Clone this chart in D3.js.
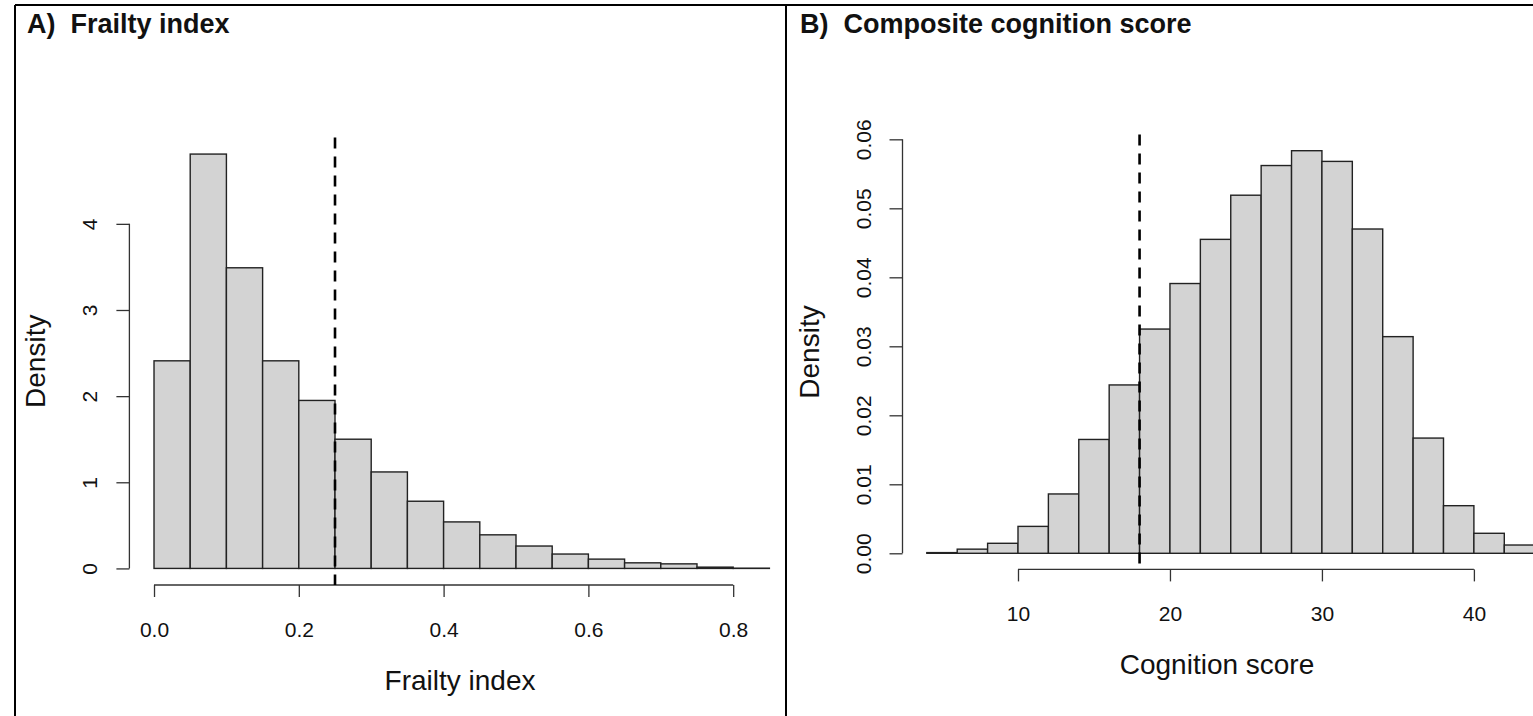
<!DOCTYPE html>
<html>
<head>
<meta charset="utf-8">
<script src="https://cdn.jsdelivr.net/npm/d3@7"></script>
<style>
  body { margin: 0; background: #fff; }
  text { font-family: "Liberation Sans", Arial, sans-serif; fill: #111; }
</style>
</head>
<body>
<div id="chart"></div>
<script>
'use strict';

// svg size
const SVG_WIDTH = 1533;
const SVG_HEIGHT = 716;

// frailty histogram
const frailty_breaks = [0, 0.05, 0.10, 0.15, 0.20, 0.25, 0.30, 0.35, 0.40, 0.45, 0.50, 0.55, 0.60, 0.65, 0.70, 0.75, 0.80, 0.85];
const frailty_density = [2.41, 4.81, 3.49, 2.41, 1.95, 1.50, 1.12, 0.78, 0.54, 0.39, 0.26, 0.167, 0.108, 0.065, 0.053, 0.015, 0.003];
const frailty_x_ticks = [0, 0.2, 0.4, 0.6, 0.8];
const frailty_y_ticks = [0, 1, 2, 3, 4];
const frailty_cutoff = 0.25;

// cognition histogram
const cognition_breaks = [4, 6, 8, 10, 12, 14, 16, 18, 20, 22, 24, 26, 28, 30, 32, 34, 36, 38, 40, 42, 44];
const cognition_density = [0.0001, 0.0006, 0.00145, 0.0039, 0.0086, 0.0165, 0.0244, 0.0325, 0.0391, 0.0455, 0.0519, 0.0562, 0.05835, 0.0568, 0.0470, 0.0314, 0.0167, 0.0069, 0.0029, 0.0012];
const cognition_x_ticks = [10, 20, 30, 40];
const cognition_y_ticks = [0, 0.01, 0.02, 0.03, 0.04, 0.05, 0.06];
const cognition_cutoff = 18;

const panels = [
    {
        title: 'A)  Frailty index', title_x: 27,
        xlab: 'Frailty index', ylab: 'Density',
        breaks: frailty_breaks, density: frailty_density,
        x_ticks: frailty_x_ticks, y_ticks: frailty_y_ticks,
        x_fmt: d3.format('.1f'), y_fmt: d3.format('d'),
        cutoff: frailty_cutoff,
        box: {left: 129.4, right: 794, top: 137.5, bottom: 585},
        xlab_x: 460
    },
    {
        title: 'B)  Composite cognition score', title_x: 800,
        xlab: 'Cognition score', ylab: 'Density',
        breaks: cognition_breaks, density: cognition_density,
        x_ticks: cognition_x_ticks, y_ticks: cognition_y_ticks,
        x_fmt: d3.format('d'), y_fmt: d3.format('.2f'),
        cutoff: cognition_cutoff,
        box: {left: 902.5, right: 1559, top: 134.6, bottom: 569.4},
        xlab_x: 1217
    }
];

const svg = d3.select('#chart')
    .append('svg')
    .attr('width', SVG_WIDTH)
    .attr('height', SVG_HEIGHT)
;

// frame lines
const frame = svg.append('g')
    .attr('stroke', '#000')
    .attr('stroke-width', 2)
;
frame.append('line').attr('x1', 15).attr('x2', SVG_WIDTH).attr('y1', 5).attr('y2', 5);
frame.append('line').attr('x1', 15).attr('x2', 15).attr('y1', 5).attr('y2', SVG_HEIGHT);
frame.append('line').attr('x1', 786).attr('x2', 786).attr('y1', 5).attr('y2', SVG_HEIGHT);

function drawPanel(p)
{
    const g = svg.append('g');
    const b = p.box;

    // R style: 4% extension of data range
    const x0 = p.breaks[0], x1 = p.breaks[p.breaks.length - 1];
    const y1 = d3.max(p.density);
    const dx = (x1 - x0) * 0.04, dy = y1 * 0.04;
    const x = d3.scaleLinear().domain([x0 - dx, x1 + dx]).range([b.left, b.right]);
    const y = d3.scaleLinear().domain([-dy, y1 + dy]).range([b.bottom, b.top]);

    // title
    g.append('text')
        .text(p.title)
        .attr('x', p.title_x)
        .attr('y', 33)
        .attr('font-size', 27)
        .attr('font-weight', 'bold')
        .style('white-space', 'pre')
    ;

    // bars
    g.append('g')
        .selectAll('rect')
        .data(p.density)
        .join('rect')
        .attr('x', (d, i) => x(p.breaks[i]))
        .attr('width', (d, i) => x(p.breaks[i + 1]) - x(p.breaks[i]))
        .attr('y', d => y(d))
        .attr('height', d => y(0) - y(d))
        .attr('fill', '#D3D3D3')
        .attr('stroke', '#222')
        .attr('stroke-width', 1.4)
    ;

    // x axis
    const xa = g.append('g')
        .attr('transform', `translate(0,${b.bottom})`)
        .call(d3.axisBottom(x).tickValues(p.x_ticks).tickFormat(p.x_fmt).tickSize(12).tickPadding(0))
    ;
    xa.select('.domain')
        .attr('d', `M${x(p.x_ticks[0])},0H${x(p.x_ticks[p.x_ticks.length - 1])}`);
    xa.selectAll('text').remove();
    xa.selectAll('.tick').append('text')
        .text(d => p.x_fmt(d))
        .attr('y', 52)
        .attr('text-anchor', 'middle')
        .attr('font-size', 21)
    ;

    // y axis
    const ya = g.append('g')
        .attr('transform', `translate(${b.left},0)`)
        .call(d3.axisLeft(y).tickValues(p.y_ticks).tickFormat(p.y_fmt).tickSize(13))
    ;
    ya.select('.domain')
        .attr('d', `M0,${y(p.y_ticks[0])}V${y(p.y_ticks[p.y_ticks.length - 1])}`);
    ya.selectAll('text').remove();
    ya.selectAll('.tick').append('text')
        .text(d => p.y_fmt(d))
        .attr('transform', 'translate(-32,0) rotate(-90)')
        .attr('text-anchor', 'middle')
        .attr('font-size', 21)
    ;
    g.selectAll('.domain, .tick line')
        .attr('stroke', '#333')
        .attr('stroke-width', 1.3)
    ;
    g.selectAll('.tick text').attr('fill', '#222');

    // axis titles
    g.append('text')
        .text(p.xlab)
        .attr('x', p.xlab_x)
        .attr('y', b.bottom + 105)
        .attr('text-anchor', 'middle')
        .attr('font-size', 28)
    ;
    g.append('text')
        .text(p.ylab)
        .attr('transform', `translate(${b.left - 84},${(b.top + b.bottom) / 2}) rotate(-90)`)
        .attr('text-anchor', 'middle')
        .attr('font-size', 28)
    ;

    // cutoff line
    g.append('line')
        .attr('x1', x(p.cutoff))
        .attr('x2', x(p.cutoff))
        .attr('y1', b.top)
        .attr('y2', b.bottom)
        .attr('stroke', '#000')
        .attr('stroke-width', 2.6)
        .attr('stroke-dasharray', '11,8')
    ;
}

panels.forEach(drawPanel);
</script>
</body>
</html>
